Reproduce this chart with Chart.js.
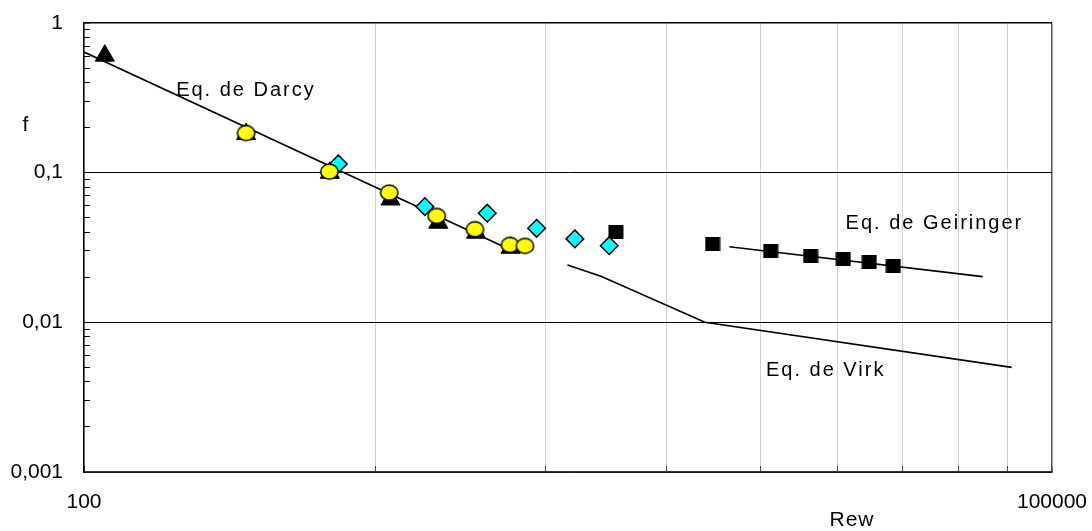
<!DOCTYPE html>
<html>
<head>
<meta charset="utf-8">
<script src="https://cdn.jsdelivr.net/npm/chart.js@4.4.1/dist/chart.umd.min.js"></script>
<style>
  html, body { margin: 0; padding: 0; background: #ffffff; }
  #wrap { width: 1092px; height: 531px; }
  canvas { display: block; }
</style>
</head>
<body>
<div id="wrap"><canvas id="c" width="1092" height="531"></canvas></div>
<script>
// Friction factor f against wall Reynolds number Rew, log–log axes.

// Reference curves
const darcyRe = [100, 2000];
const darcyF = [0.64, 0.032];
const virkRe = [3150, 4000, 8400, 75000];
const virkF = [0.0242, 0.0203, 0.0100, 0.0050];
const geiringerRe = [10000, 61000];
const geiringerF = [0.0320, 0.0202];

// Measured series
const triangleRe = [116, 318, 578, 891, 1253, 1640, 2100];
const triangleF = [0.605, 0.181, 0.0998, 0.0662, 0.0463, 0.0397, 0.0315];
const circleRe = [318, 576, 883, 1239, 1628, 2090, 2326];
const circleF = [0.184, 0.1016, 0.0735, 0.0514, 0.0419, 0.0329, 0.0324];
const diamondRe = [614, 1139, 1777, 2528, 3322, 4244];
const diamondF = [0.1143, 0.0593, 0.0536, 0.0425, 0.0361, 0.0325];
const squareRe = [4452, 8875, 13430, 17860, 22540, 27140, 32210];
const squareF = [0.0400, 0.0332, 0.0301, 0.0279, 0.0265, 0.0252, 0.0239];

// Axis ticks
const xTickValues = [100, 800, 2700, 6400, 12500, 21600, 34300, 51200, 72900, 100000];
const xTickLabels = ['100', '', '', '', '', '', '', '', '', '100000'];
const yMajorValues = [0.001, 0.01, 0.1, 1];
const yMajorLabels = ['0,001', '0,01', '0,1', '1'];
const yMinorSteps = [2, 3, 4, 5, 6, 7, 8, 9];

// Curve captions: text with the (Rew, f) point where it starts
const captionTexts = ['Eq. de Darcy', 'Eq. de Geiringer', 'Eq. de Virk'];
const captionRe = [193, 22930, 12990];
const captionF = [0.327, 0.0421, 0.00439];

const FONT = '"Liberation Sans", Arial, Helvetica, sans-serif';

const pairs = (xs, ys) => xs.map((v, i) => ({ x: v, y: ys[i] }));

const yTickValues = [];
yMajorValues.forEach((m, k) => {
  yTickValues.push(m);
  if (k < yMajorValues.length - 1) yMinorSteps.forEach(s => yTickValues.push(+(m * s).toPrecision(6)));
});

// slightly wide marker sprites (oval and flat square)
function sprite(w, h, paint) {
  const c = document.createElement('canvas');
  c.width = w; c.height = h;
  paint(c.getContext('2d'), w, h);
  return c;
}
const ovalMarker = sprite(21, 19, (g, w, h) => {
  g.beginPath();
  g.ellipse(w / 2, h / 2, 8.7, 7.5, 0, 0, Math.PI * 2);
  g.fillStyle = '#ffff00';
  g.fill();
  g.lineWidth = 1.5;
  g.strokeStyle = '#000000';
  g.stroke();
});
const squareMarker = sprite(16, 14, (g, w, h) => {
  g.fillStyle = '#000000';
  g.fillRect(0.5, 0, w - 1, h);
});

const marker = (label, xs, ys, style, radius, fill, borderWidth) => ({
  label, data: pairs(xs, ys), showLine: false,
  pointStyle: style, pointRadius: radius, pointHoverRadius: radius,
  pointBackgroundColor: fill, pointBorderColor: '#000000', pointBorderWidth: borderWidth
});
const curve = (label, xs, ys) => ({
  label, data: pairs(xs, ys), showLine: true, borderColor: '#000000', borderWidth: 1.6,
  pointRadius: 0, pointHoverRadius: 0, tension: 0, fill: false
});

// earlier entries are painted on top
const datasets = [
  marker('Série 2', circleRe, circleF, ovalMarker, 9, '#ffff00', 1.5),
  marker('Série 3', diamondRe, diamondF, 'rectRot', 8.8, '#00ffff', 1.5),
  marker('Série 1', triangleRe, triangleF, 'triangle', 11, '#000000', 1),
  marker('Série 4', squareRe, squareF, squareMarker, 10, '#000000', 1),
  curve('Eq. de Darcy', darcyRe, darcyF),
  curve('Eq. de Virk', virkRe, virkF),
  curve('Eq. de Geiringer', geiringerRe, geiringerF)
];

const captions = {
  id: 'captions',
  afterDatasetsDraw(chart) {
    const { ctx, scales: { x, y } } = chart;
    ctx.save();
    ctx.fillStyle = '#000000';
    ctx.font = '20px ' + FONT;
    ctx.letterSpacing = '2px';
    ctx.textAlign = 'left';
    ctx.textBaseline = 'alphabetic';
    captionTexts.forEach((t, i) => {
      ctx.fillText(t, x.getPixelForValue(captionRe[i]), y.getPixelForValue(captionF[i]));
    });
    // axis titles
    ctx.font = '21px ' + FONT;
    ctx.letterSpacing = '1px';
    ctx.textAlign = 'center';
    ctx.textBaseline = 'middle';
    ctx.fillText('f', 26, 125);
    ctx.fillText('Rew', 852, 520);
    ctx.restore();
  }
};

new Chart(document.getElementById('c'), {
  type: 'scatter',
  data: { datasets },
  options: {
    responsive: false,
    animation: false,
    devicePixelRatio: 1,
    layout: { padding: { top: 23, right: 40, bottom: 0, left: 0 } },
    plugins: { legend: { display: false }, tooltip: { enabled: false } },
    scales: {
      x: {
        type: 'logarithmic', min: 100, max: 100000,
        afterBuildTicks: s => { s.ticks = xTickValues.map(v => ({ value: v })); },
        afterFit: s => { s.height = 59; s.paddingLeft = 0; s.paddingRight = 0; },
        border: { color: '#333333', width: 1.5 },
        grid: {
          color: c => (c.tick && c.tick.value === 100000) ? '#555555' : '#d0d0d0',
          lineWidth: c => (c.tick && c.tick.value === 100000) ? 1.5 : 1,
          tickColor: '#444444',
          tickLength: -6,
          drawTicks: true
        },
        ticks: {
          autoSkip: false, maxRotation: 0, minRotation: 0, padding: 24, color: '#000000',
          font: { family: FONT, size: 21 },
          callback: v => { const i = xTickValues.indexOf(v); return i >= 0 ? xTickLabels[i] : ''; }
        }
      },
      y: {
        type: 'logarithmic', min: 0.001, max: 1,
        afterBuildTicks: s => { s.ticks = yTickValues.map(v => ({ value: v })); },
        afterFit: s => { s.width = 84; s.paddingTop = 0; s.paddingBottom = 0; },
        border: { color: '#000000', width: 1.5 },
        grid: {
          color: c => (c.tick && yMajorValues.includes(c.tick.value)) ? '#000000' : 'rgba(0,0,0,0)',
          lineWidth: c => (c.tick && c.tick.value === 1) ? 1.5 : 1,
          tickColor: '#000000',
          tickLength: -6,
          drawTicks: true
        },
        ticks: {
          autoSkip: false, padding: 27, color: '#000000',
          font: { family: FONT, size: 21 },
          callback: v => { const i = yMajorValues.indexOf(v); return i >= 0 ? yMajorLabels[i] : ''; }
        }
      }
    }
  },
  plugins: [captions]
});
</script>
</body>
</html>
